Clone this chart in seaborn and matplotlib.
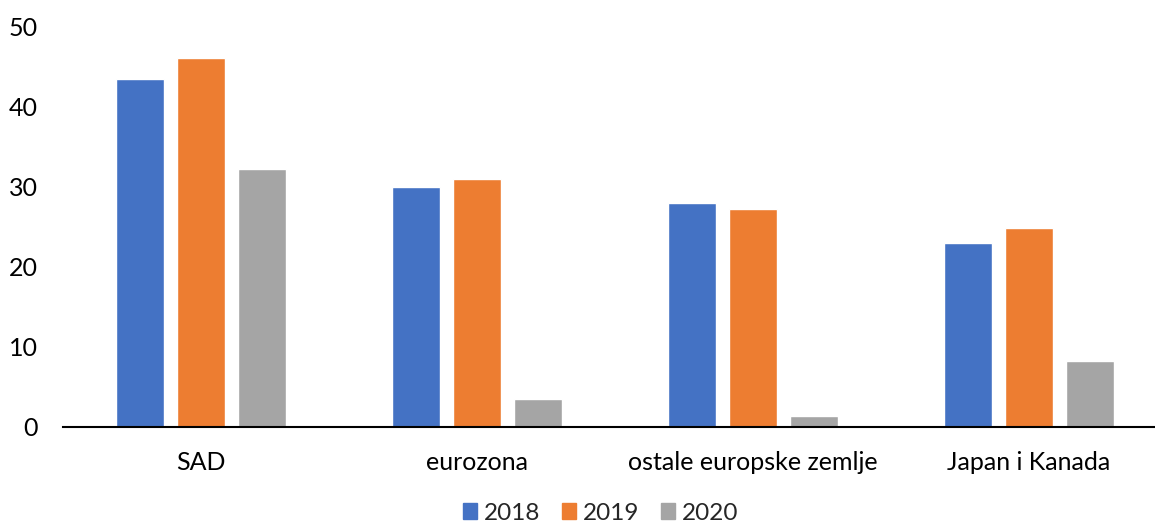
import pandas as pd
import numpy as np
import matplotlib.pyplot as plt
import seaborn as sns

regije = ["SAD", "eurozona", "ostale europske zemlje", "Japan i Kanada"]
godine = ["2018", "2019", "2020"]
v2018 = [43.5, 30.0, 28.0, 23.0]
v2019 = [46.1, 31.0, 27.25, 24.9]
v2020 = [32.25, 3.5, 1.4, 8.25]

df = pd.DataFrame({
    "regija": regije * 3,
    "godina": [g for g in godine for _ in regije],
    "vrijednost": v2018 + v2019 + v2020,
})

sns.set_style("white")
plt.rcParams["font.family"] = ["Lato", "DejaVu Sans"]

boje = ["#4472C4", "#ED7D31", "#A5A5A5"]

fig = plt.figure(figsize=(11.55, 5.26), dpi=100)
ax = fig.add_axes([63/1155, 99/526, 1104/1155, 400/526])

sns.barplot(data=df, x="regija", y="vrijednost", hue="godina", palette=boje,
            width=0.663, gap=0.213, saturation=1, ax=ax, legend=False)

ax.set_xlim(-0.5, 3.5)
ax.set_ylim(0, 50)
ax.set_yticks([0, 10, 20, 30, 40, 50])
ax.set_xlabel("")
ax.set_ylabel("")
for s in ["top", "right", "left"]:
    ax.spines[s].set_visible(False)
ax.spines["bottom"].set_color("black")
ax.spines["bottom"].set_linewidth(1.5)
ax.tick_params(axis="both", length=0, labelsize=18, colors="black")
ax.tick_params(axis="x", pad=17)
ax.tick_params(axis="y", pad=18)

handles = [plt.Rectangle((0, 0), 1, 1, color=c) for c in boje]
fig.legend(handles, godine, loc="center", bbox_to_anchor=(0.52, 13/526),
           ncol=3, frameon=False, fontsize=17.5, handlelength=0.6,
           handleheight=0.6, handletextpad=0.28, columnspacing=0.88,
           borderpad=0)

fig.savefig("out.png", dpi=100)
